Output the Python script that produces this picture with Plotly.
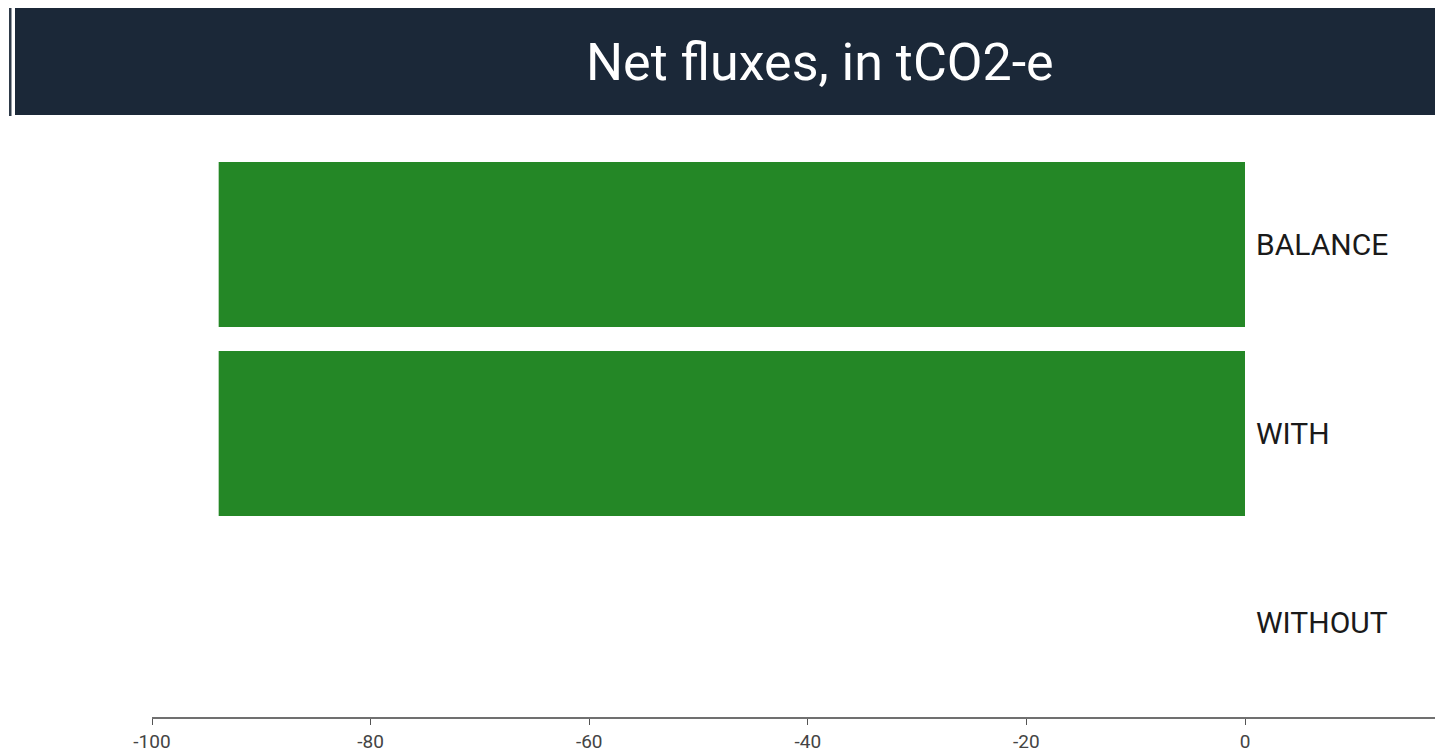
import plotly.graph_objects as go

categories = ["BALANCE", "WITH", "WITHOUT"]
values = [-93.9, -93.9, 0]
x_ticks = [-100, -80, -60, -40, -20, 0]
title_text = "Net fluxes, in tCO2-e"

OFF = 8  # page body margin
W, H = 1447, 747
L, R, T, B = 144, 0, 142, 38
pw, ph = W - L - R, H - T - B

# x scale: -100 at page x 152, 0 at page x 1245
X_LEFT_PX, X_ZERO_PX = 152, 1245
x_max = (OFF + W - X_ZERO_PX) * 100.0 / (X_ZERO_PX - X_LEFT_PX)

def px_x(p):
    return (p - OFF - L) / pw

def px_y(p):
    return (H - B - (p - OFF)) / ph

fig = go.Figure(go.Bar(
    y=categories, x=values, orientation="h",
    marker=dict(color="#248726", line=dict(width=0)),
    hoverinfo="x+y",
))

fig.update_layout(
    width=W, height=H,
    margin=dict(l=L, r=R, t=T, b=B, pad=0),
    paper_bgcolor="white", plot_bgcolor="white",
    showlegend=False,
    bargap=0.127,
    font=dict(family="Roboto", color="#222"),
    xaxis=dict(
        range=[-100, x_max], tickvals=x_ticks, ticktext=[str(v) for v in x_ticks],
        showgrid=False, zeroline=False,
        showline=True, linecolor="#707070", linewidth=2,
        ticks="outside", ticklen=6, tickwidth=1, tickcolor="#555",
        tickfont=dict(family="Roboto", size=19, color="#444"),
    ),
    yaxis=dict(
        categoryorder="array", categoryarray=categories[::-1],
        anchor="free", position=px_x(X_ZERO_PX), side="right",
        showgrid=False, zeroline=False, showline=False, ticks="",
        ticklabelstandoff=10,
        tickfont=dict(family="Roboto", size=30, color="#1a1a1a"),
    ),
    shapes=[
        dict(type="rect", xref="paper", yref="paper",
             x0=px_x(15), x1=1.0, y0=px_y(115), y1=px_y(8),
             fillcolor="#1b2838", line=dict(width=0), layer="above"),
        dict(type="rect", xref="paper", yref="paper",
             x0=px_x(9), x1=px_x(11.5), y0=px_y(116), y1=px_y(7),
             fillcolor="#2e3a48", line=dict(width=0), layer="above"),
    ],
    annotations=[
        dict(text=title_text, xref="paper", yref="paper",
             x=px_x(820), y=px_y(63), xanchor="center", yanchor="middle",
             showarrow=False, font=dict(family="Roboto", size=52, color="white")),
    ],
)

fig.write_html("out.html")
